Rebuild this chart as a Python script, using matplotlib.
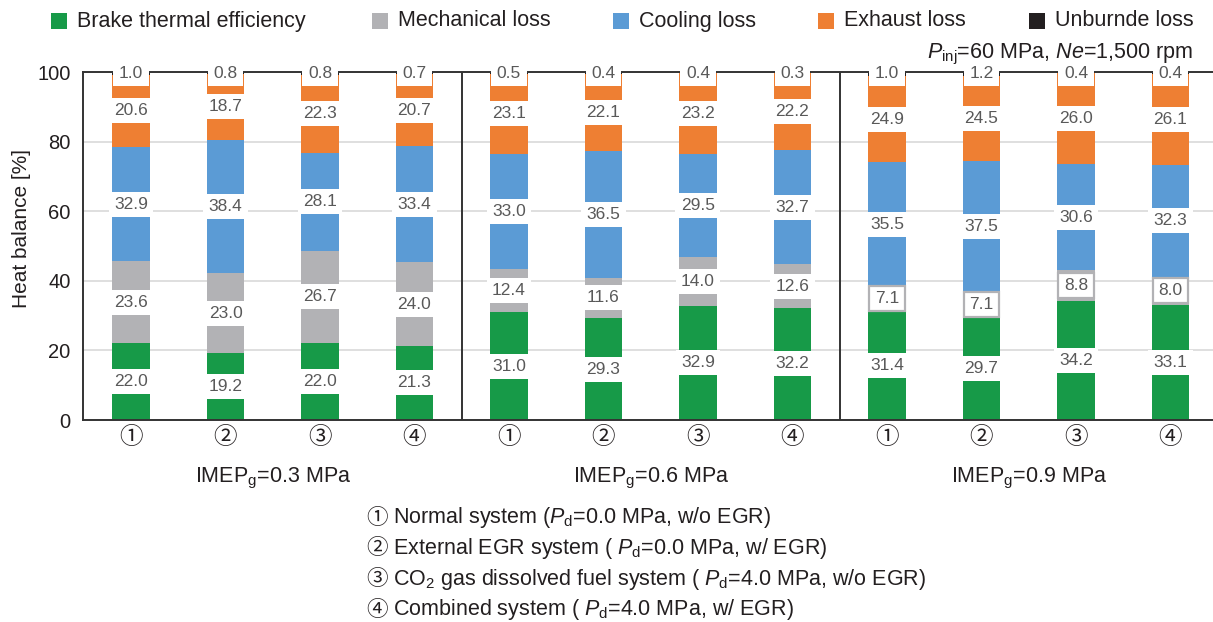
import matplotlib
matplotlib.use("Agg")
import matplotlib.pyplot as plt
from matplotlib.patches import Rectangle
import numpy as np

plt.rcParams['font.family'] = ['Liberation Sans', 'Noto Sans CJK JP']
plt.rcParams['mathtext.fontset'] = 'custom'
plt.rcParams['mathtext.rm'] = 'Liberation Sans'
plt.rcParams['mathtext.it'] = 'Liberation Sans:italic'
plt.rcParams['mathtext.default'] = 'regular'

# ---- data -------------------------------------------------------------
systems = ['①', '②', '③', '④']
loads = ['0.3', '0.6', '0.9']
categories = ['Brake thermal efficiency', 'Mechanical loss', 'Cooling loss',
              'Exhaust loss', 'Unburnde loss']
brake = [22.0, 19.2, 22.0, 21.3, 31.0, 29.3, 32.9, 32.2, 31.4, 29.7, 34.2, 33.1]
mech = [23.6, 23.0, 26.7, 24.0, 12.4, 11.6, 14.0, 12.6, 7.1, 7.1, 8.8, 8.0]
cooling = [32.9, 38.4, 28.1, 33.4, 33.0, 36.5, 29.5, 32.7, 35.5, 37.5, 30.6, 32.3]
exhaust = [20.6, 18.7, 22.3, 20.7, 23.1, 22.1, 23.2, 22.2, 24.9, 24.5, 26.0, 26.1]
unburned = [1.0, 0.8, 0.8, 0.7, 0.5, 0.4, 0.4, 0.3, 1.0, 1.2, 0.4, 0.4]
system_notes = [
    r'Normal system ($\mathit{P}_\mathrm{d}$=0.0 MPa, w/o EGR)',
    r'External EGR system ( $\mathit{P}_\mathrm{d}$=0.0 MPa, w/ EGR)',
    r'CO$_2$ gas dissolved fuel system ( $\mathit{P}_\mathrm{d}$=4.0 MPa, w/o EGR)',
    r'Combined system ( $\mathit{P}_\mathrm{d}$=4.0 MPa, w/ EGR)',
]

colors = ['#179a48', '#b2b2b5', '#5b9bd5', '#ee7f33', '#231f20']
series = [brake, mech, cooling, exhaust, unburned]

W, H = 1213, 622
fig = plt.figure(figsize=(W / 100, H / 100), dpi=100)


def fx(px):
    return px / W


def fy(py):
    return 1 - py / H


ax = fig.add_axes([fx(83), fy(420), fx(1213) - fx(83), fy(72) - fy(420)])

BAR_W = 0.40
x = np.arange(len(brake))
bottom = np.zeros(len(brake))
label_col = '#595959'
labels = []  # (text artist, outlined?)
for k, (vals, col) in enumerate(zip(series, colors)):
    vals = np.array(vals)
    ax.bar(x, vals, bottom=bottom, width=BAR_W, color=col, zorder=2,
           linewidth=0)
    for i in range(len(x)):
        mid = bottom[i] + vals[i] / 2
        if k == 4:
            mid = 99.6
        t = ax.text(x[i], mid, f'{vals[i]:.1f}', ha='center', va='center',
                    fontsize=12.5, color=label_col, zorder=7, clip_on=False)
        labels.append((t, k == 1 and vals[i] < 10))
    bottom = bottom + vals

ax.set_xlim(-0.508, 11.45)
ax.set_ylim(0, 100)
ax.set_yticks([0, 20, 40, 60, 80, 100])
ax.set_yticklabels(['0', '20', '40', '60', '80', '100'], fontsize=14.5,
                   color='#231f20')
ax.tick_params(axis='y', length=0, pad=9)
ax.set_xticks([])
ax.grid(axis='y', color='#d9d9d9', linewidth=1.2, zorder=0)
ax.set_axisbelow(True)
for side in ['left', 'bottom', 'top']:
    ax.spines[side].set_color('#333333')
    ax.spines[side].set_linewidth(1.4)
ax.spines['right'].set_visible(False)
for xd in [3.5, 7.5]:
    ax.plot([xd, xd], [0, 100], color='#333333', linewidth=1.4, zorder=3)

# white backing boxes behind the value labels, sized from the text extent
fig.canvas.draw()
renderer = fig.canvas.get_renderer()
inv = ax.transData.inverted()
for t, outlined in labels:
    bb = t.get_window_extent(renderer)
    cx = (bb.x0 + bb.x1) / 2
    cy = (bb.y0 + bb.y1) / 2
    if outlined:
        xd0 = t.get_position()[0] - BAR_W / 2 + 0.01
        xd1 = t.get_position()[0] + BAR_W / 2 - 0.01
        (_, yd0), (_, yd1) = inv.transform([(cx, cy - 12.5), (cx, cy + 12.5)])
        ax.add_patch(Rectangle((xd0, yd0), xd1 - xd0, yd1 - yd0,
                               facecolor='white', edgecolor='#b2b2b5',
                               linewidth=1.6, zorder=6, clip_on=False))
    else:
        w = bb.width + 11
        (xd0, yd0), (xd1, yd1) = inv.transform([(cx - w / 2, cy - 12.5),
                                                (cx + w / 2, cy + 12.5)])
        ax.add_patch(Rectangle((xd0, yd0), xd1 - xd0, yd1 - yd0,
                               facecolor='white', edgecolor='none',
                               zorder=6, clip_on=False))

# system numbers under each bar and load labels under each group
xt = ax.get_xaxis_transform()
for i in range(len(x)):
    ax.text(x[i], -18 / 348, systems[i % 4], ha='center', va='center',
            fontsize=17, family='Noto Sans CJK JP', color='#231f20',
            transform=xt)
for g, ld in enumerate(loads):
    ax.text(g * 4 + 1.5, -58 / 348, r'IMEP$_\mathrm{g}$=' + ld + ' MPa',
            ha='center', va='center', fontsize=15.5, color='#231f20',
            transform=xt)

# y label
fig.text(fx(22), fy(228), 'Heat balance [%]', rotation=90, ha='center',
         va='center', fontsize=15, color='#231f20')

# legend across the top
leg_x = [51, 372, 613, 818, 1029]
for lx, name, col in zip(leg_x, categories, colors):
    fig.patches.append(Rectangle((fx(lx), fy(29)), 16 / W, 16 / H,
                                 transform=fig.transFigure, facecolor=col,
                                 edgecolor='none'))
    fig.text(fx(lx + 26), fy(21), name, ha='left', va='center',
             fontsize=15.5, color='#231f20')

# operating condition
fig.text(fx(1193), fy(54), r'$\mathit{P}_\mathrm{inj}$=60 MPa, $\mathit{Ne}$=1,500 rpm',
         ha='right', va='center', fontsize=15.5, color='#231f20')

# system descriptions
for j, note in enumerate(system_notes):
    yy = 518 + j * 30.5
    fig.text(fx(377), fy(yy), systems[j], ha='center', va='center',
             fontsize=15.5, family='Noto Sans CJK JP', color='#231f20')
    fig.text(fx(393), fy(yy), note, ha='left', va='center',
             fontsize=15.5, color='#231f20')

fig.savefig('out.png', dpi=100)
